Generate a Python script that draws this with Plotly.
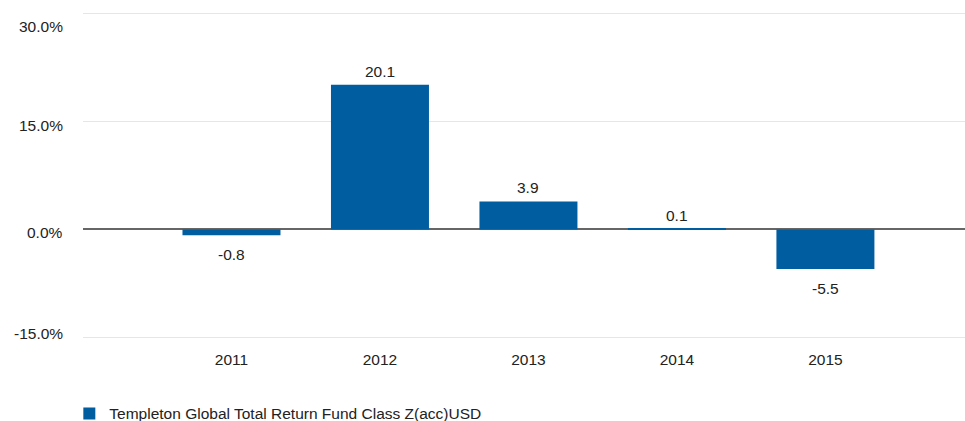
import plotly.graph_objects as go

years = ["2011", "2012", "2013", "2014", "2015"]
returns = [-0.8, 20.1, 3.9, 0.1, -5.5]
series_name = "Templeton Global Total Return Fund Class Z(acc)USD"
y_ticks = [-15, 0, 15, 30]
y_tick_labels = ["-15.0%", "0.0%", "15.0%", "30.0%"]

FONT = "Liberation Sans, Arial, Helvetica, sans-serif"
FS = 15.5
BLUE = "#005DA0"
TXT = "#222222"

fig = go.Figure()
fig.add_trace(go.Bar(
    x=years, y=returns, name=series_name,
    marker=dict(color=BLUE, line=dict(width=0)),
    width=0.66, showlegend=True, hoverinfo="x+y",
))

for i, v in enumerate(returns):
    fig.add_annotation(
        x=i, y=v, text=f"{v:.1f}", showarrow=False,
        yanchor="middle", yshift=(13.5 if v >= 0 else -19),
        font=dict(family=FONT, size=FS, color=TXT),
    )

top, bottom = max(y_ticks), min(y_ticks)
for v, lab in zip(y_ticks, y_tick_labels):
    shift = -12.5 if v == top else (4 if v == bottom else -3.5)
    fig.add_annotation(
        xref="paper", x=-0.0204, y=v, text=lab, showarrow=False,
        xanchor="right", yanchor="middle", yshift=shift,
        font=dict(family=FONT, size=FS, color=TXT),
    )

fig.update_layout(
    width=965, height=421,
    margin=dict(l=83, r=0, t=9.9, b=79.9, autoexpand=False),
    paper_bgcolor="white", plot_bgcolor="white",
    font=dict(family=FONT, size=FS, color=TXT),
    showlegend=True,
    legend=dict(
        orientation="h", x=-0.0155, xanchor="left", y=-0.22, yanchor="middle",
        font=dict(family=FONT, size=FS, color=TXT),
        bgcolor="rgba(0,0,0,0)",
    ),
    xaxis=dict(
        type="category", range=[-1, 4.94], automargin=False,
        showgrid=False, showline=False, zeroline=False,
        ticks="outside", ticklen=4, tickcolor="rgba(0,0,0,0)",
        tickfont=dict(family=FONT, size=FS, color=TXT),
    ),
    yaxis=dict(
        range=[-15.5, 30.5], tickvals=y_ticks, showticklabels=False, automargin=False,
        showgrid=True, gridcolor="#e6e6e6", gridwidth=1,
        zeroline=True, zerolinecolor="#666666", zerolinewidth=1.5,
        showline=False, ticks="",
    ),
)

fig.write_html("out.html", config={"displayModeBar": False},
               post_script="document.body.style.margin='0';")
